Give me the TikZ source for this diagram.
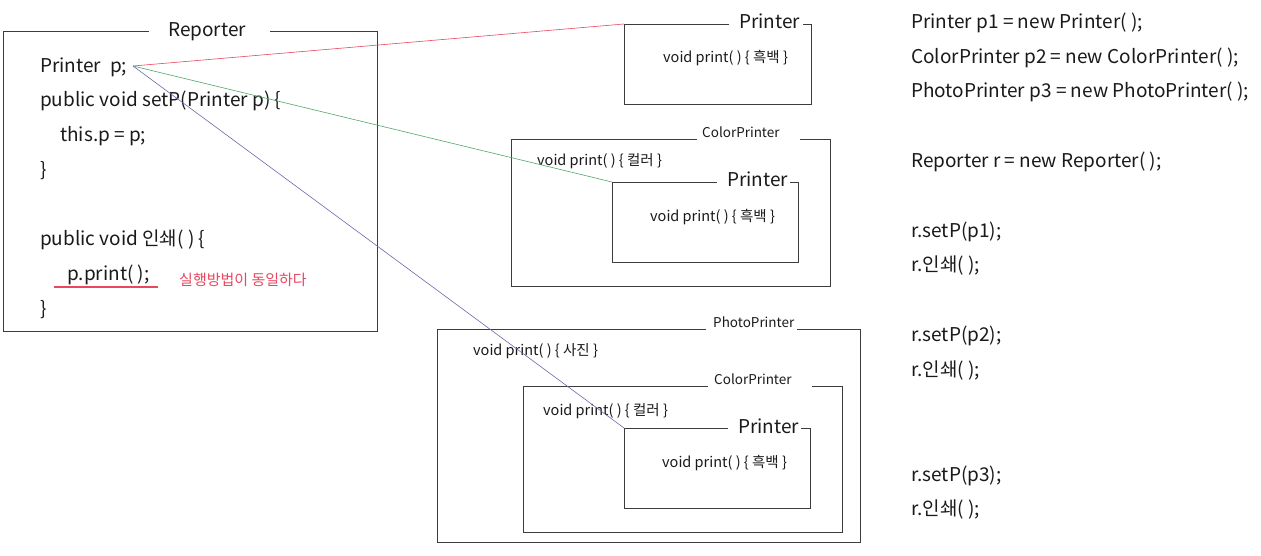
\documentclass[tikz,border=0pt]{standalone}
\usepackage{fontspec}
\setmainfont{Noto Sans CJK KR}
\definecolor{ink}{HTML}{1A1A1A}
\definecolor{framegray}{HTML}{3C3C3C}
\definecolor{refred}{HTML}{E8475F}
\definecolor{refgreen}{HTML}{4CA86A}
\definecolor{refblue}{HTML}{6A6AB0}
\begin{document}
\begin{tikzpicture}[x=1pt, y=-1pt,
    code/.style={anchor=base west, inner sep=0pt, text=ink, font=\fontsize{19}{22}\selectfont},
    small/.style={anchor=base west, inner sep=0pt, text=ink, font=\fontsize{14.5}{17}\selectfont},
    boxname/.style={anchor=base west, inner sep=0pt, text=ink, font=\fontsize{13.5}{16}\selectfont},
    note/.style={anchor=base west, inner sep=0pt, text=refred, font=\fontsize{15}{17}\selectfont},
    frame/.style={draw=framegray, line width=0.9pt},
    link/.style={line width=0.6pt}]
    % page size
    \useasboundingbox[fill=white] (0,0) rectangle (1261,556);

    % Reporter
    \draw[frame] (149,31) -- (3,31) -- (3,331) -- (377,331) -- (377,31) -- (270,31);
    \node[code] (reptitle) at (168,37) {Reporter};
    \node[code] (l1) at (40,73) {Printer\hspace{9pt}p;};
    \node[code] (l2) at (40,107) {public void setP(Printer p) \{};
    \node[code] (l3) at (60,142) {this.p = p;};
    \node[code] (l4) at (40,177) {\}};
    \node[code] (l5) at (40,246) {public void 인쇄( ) \{};
    \node[code] (l6) at (67,280) {p.print( );};
    \node[code] (l7) at (40,315) {\}};
    \coordinate (ulA) at (54,287);
    \coordinate (ulB) at (158,287);
    \draw[refred, line width=1.3pt] (ulA) -- (ulB);
    \node[note] (same) at (179,285) {실행방법이 동일하다};
    \coordinate (pref) at (133,66);

    % Printer p1
    \draw[frame] (729,24) -- (624,24) -- (624,104) -- (811,104) -- (811,24) -- (803,24);
    \node[code] (pt1) at (739,29) {Printer};
    \node[small] (pm1) at (663,63) {void print( ) \{ 흑백 \}};
    \coordinate (p1) at (624,24);

    % ColorPrinter p2
    \draw[frame] (697,139) -- (511,139) -- (511,286) -- (830,286) -- (830,139) -- (800,139);
    \node[boxname] (ct2) at (702,138) {ColorPrinter};
    \node[small] (cm2) at (537,166) {void print( ) \{ 컬러 \}};
    \draw[frame] (717,182) -- (612,182) -- (612,262) -- (798,262) -- (798,182) -- (790,182);
    \node[code] (pt2) at (727,187) {Printer};
    \node[small] (pm2) at (650,222) {void print( ) \{ 흑백 \}};
    \coordinate (p2) at (612,182);

    % PhotoPrinter p3
    \draw[frame] (706,329) -- (437,329) -- (437,542) -- (860,542) -- (860,329) -- (797,329);
    \node[boxname] (ht3) at (713,327) {PhotoPrinter};
    \node[small] (hm3) at (473,355) {void print( ) \{ 사진 \}};
    \draw[frame] (708,386) -- (523,386) -- (523,532) -- (842,532) -- (842,386) -- (812,386);
    \node[boxname] (ct3) at (714,384) {ColorPrinter};
    \node[small] (cm3) at (543,415) {void print( ) \{ 컬러 \}};
    \draw[frame] (728,428) -- (624,428) -- (624,508) -- (810,508) -- (810,428) -- (801,428);
    \node[code] (pt3) at (738,433) {Printer};
    \node[small] (pm3) at (662,467) {void print( ) \{ 흑백 \}};
    \coordinate (p3) at (624,428);

    % references
    \draw[link, refred] (pref) -- (p1);
    \draw[link, refgreen] (pref) -- (p2);
    \draw[link, refblue] (pref) -- (p3);

    % main
    \node[code] (m1) at (911,29) {Printer p1 = new Printer( );};
    \node[code] (m2) at (911,64) {ColorPrinter p2 = new ColorPrinter( );};
    \node[code] (m3) at (911,98) {PhotoPrinter p3 = new PhotoPrinter( );};
    \node[code] (m4) at (911,168) {Reporter r = new Reporter( );};
    \node[code] (m5) at (911,237) {r.setP(p1);};
    \node[code] (m6) at (911,272) {r.인쇄( );};
    \node[code] (m7) at (911,341) {r.setP(p2);};
    \node[code] (m8) at (911,376) {r.인쇄( );};
    \node[code] (m9) at (911,481) {r.setP(p3);};
    \node[code] (m10) at (911,515) {r.인쇄( );};
\end{tikzpicture}
\end{document}
